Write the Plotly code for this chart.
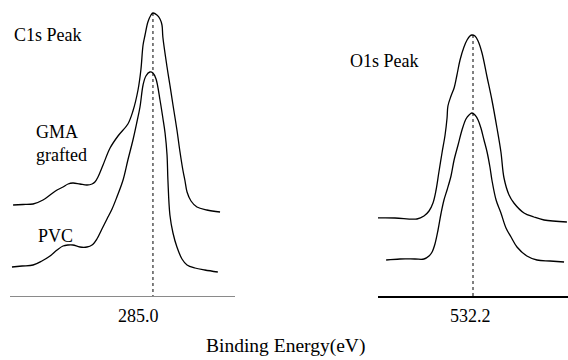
import plotly.graph_objects as go

# ---- C1s region (binding energy, eV) ----
c1s_gma_be = [291.36, 290.91, 290.45, 290.00, 289.68, 289.36, 289.09, 288.86, 288.64, 288.32,
              288.00, 287.77, 287.64, 287.50, 287.27, 286.95, 286.59, 286.14, 285.91, 285.68,
              285.55, 285.45, 285.36, 285.23, 285.09, 285.00, 284.82, 284.68, 284.59, 284.55,
              284.36, 284.23, 284.09, 283.91, 283.77, 283.64, 283.55, 283.45, 283.27, 283.00,
              282.55, 281.95]
c1s_gma_int = [91, 91.5, 92, 96, 101, 106, 109, 112, 113, 112,
               111, 112, 114, 119, 131, 148, 160, 172, 185, 206,
               226, 251, 261, 274, 281, 283, 281, 277, 271, 259,
               229, 211, 191, 166, 144, 126, 116, 104, 95, 89,
               86, 84]

c1s_pvc_be = [291.41, 290.95, 290.45, 290.05, 289.68, 289.36, 289.09, 288.86, 288.64, 288.32,
              288.00, 287.77, 287.55, 287.32, 287.09, 286.86, 286.64, 286.36, 286.14, 285.91,
              285.73, 285.59, 285.45, 285.32, 285.14, 285.00, 284.86, 284.68, 284.55, 284.45,
              284.36, 284.32, 284.23, 284.09, 283.91, 283.68, 283.45, 283.09, 282.64, 282.05]
c1s_pvc_int = [29, 30, 31, 35, 40, 46, 50, 51, 51, 49,
               49, 51, 57, 67, 77, 87, 99, 116, 136, 156,
               174, 189, 211, 220, 224, 223, 217, 196, 178, 163,
               141, 116, 81, 63, 49, 37, 31, 28, 26, 24]

# ---- O1s region ----
o1s_gma_be = [536.79, 535.75, 534.75, 534.43, 534.20, 534.02, 533.88, 533.75, 533.61, 533.47,
              533.38, 533.34, 533.20, 533.06, 532.93, 532.79, 532.61, 532.47, 532.34, 532.25,
              532.11, 531.97, 531.79, 531.56, 531.34, 531.11, 530.93, 530.79, 530.56, 530.34,
              529.88, 529.43, 528.97, 527.93]
o1s_gma_int = [78, 78, 77, 80, 85, 93, 106, 124, 143, 161,
               178, 190, 200, 208, 221, 236, 249, 256, 260, 261,
               260, 255, 243, 219, 196, 168, 144, 118, 101, 93,
               83, 79, 76, 74]

o1s_pvc_be = [536.15, 535.52, 534.84, 534.43, 534.20, 534.06, 533.93, 533.79, 533.65, 533.52,
              533.38, 533.20, 533.06, 532.88, 532.70, 532.52, 532.38, 532.25, 532.11, 531.97,
              531.84, 531.70, 531.56, 531.43, 531.34, 531.15, 530.93, 530.70, 530.47, 530.20,
              529.75, 529.29, 528.70, 528.06]
o1s_pvc_int = [36, 37, 37, 37, 40, 44, 52, 66, 83, 96,
               106, 120, 136, 151, 166, 177, 181, 183, 181, 176,
               168, 156, 144, 129, 116, 96, 83, 68, 59, 49,
               40, 36, 35, 34]

c1s_ref = 285.0
o1s_ref = 532.2
tick_labels = ["285.0", "532.2"]

FONT = "Liberation Serif"
line_style = dict(color="black", width=1.3)

fig = go.Figure()
fig.add_trace(go.Scatter(x=c1s_gma_be, y=c1s_gma_int, mode="lines", line=line_style,
                         line_shape="spline", xaxis="x", yaxis="y", hoverinfo="skip"))
fig.add_trace(go.Scatter(x=c1s_pvc_be, y=c1s_pvc_int, mode="lines", line=line_style,
                         line_shape="spline", xaxis="x", yaxis="y", hoverinfo="skip"))
fig.add_trace(go.Scatter(x=o1s_gma_be, y=o1s_gma_int, mode="lines", line=line_style,
                         line_shape="spline", xaxis="x2", yaxis="y2", hoverinfo="skip"))
fig.add_trace(go.Scatter(x=o1s_pvc_be, y=o1s_pvc_int, mode="lines", line=line_style,
                         line_shape="spline", xaxis="x2", yaxis="y2", hoverinfo="skip"))

# dotted reference lines from baseline up to the top peak
fig.add_shape(type="line", xref="x", yref="y", x0=c1s_ref, x1=c1s_ref, y0=-2,
              y1=max(c1s_gma_int), line=dict(color="black", width=1, dash="dot"))
fig.add_shape(type="line", xref="x2", yref="y2", x0=o1s_ref, x1=o1s_ref, y0=0,
              y1=max(o1s_gma_int), line=dict(color="black", width=1, dash="dot"))

ann = []
ann.append(dict(x=c1s_ref, y=0, xref="x", yref="y", text=tick_labels[0], showarrow=False,
                xanchor="center", yanchor="top", xshift=-14, yshift=-8,
                font=dict(family=FONT, size=18, color="black")))
ann.append(dict(x=o1s_ref, y=0, xref="x2", yref="y2", text=tick_labels[1], showarrow=False,
                xanchor="center", yanchor="top", xshift=-3, yshift=-8,
                font=dict(family=FONT, size=18, color="black")))


def label(text, x, y, anchor="left", size=18):
    ann.append(dict(x=x / 568, y=1 - y / 360, xref="paper", yref="paper", text=text,
                    showarrow=False, xanchor=anchor, yanchor="middle",
                    font=dict(family=FONT, size=size, color="black")))


label("C1s Peak", 12, 35)
label("GMA", 34, 132)
label("grafted", 34, 155)
label("PVC", 36, 236)
label("O1s Peak", 348, 61)
label("Binding Energy(eV)", 285, 346, "center", 19.5)

fig.update_layout(
    width=568, height=360,
    margin=dict(l=0, r=0, t=0, b=0),
    paper_bgcolor="white", plot_bgcolor="white",
    showlegend=False,
    font=dict(family=FONT, color="black"),
    annotations=ann,
    xaxis=dict(domain=[10 / 568, 235 / 568], range=[291.5, 281.27], anchor="y",
               showline=True, linecolor="#8a8a8a", linewidth=1, showgrid=False,
               zeroline=False, showticklabels=False, ticks=""),
    xaxis2=dict(domain=[378 / 568, 1.0], range=[536.52, 527.88], anchor="y2",
                showline=True, linecolor="black", linewidth=1.5, showgrid=False,
                zeroline=False, showticklabels=False, ticks=""),
    yaxis=dict(domain=[1 - 296 / 360, 1.0], range=[0, 296], anchor="x", visible=False),
    yaxis2=dict(domain=[1 - 296 / 360, 1.0], range=[0, 296], anchor="x2", visible=False),
)

fig.write_html("out.html", config={"displayModeBar": False, "staticPlot": True},
               post_script="document.body.style.margin='0';document.body.style.overflow='hidden';")
